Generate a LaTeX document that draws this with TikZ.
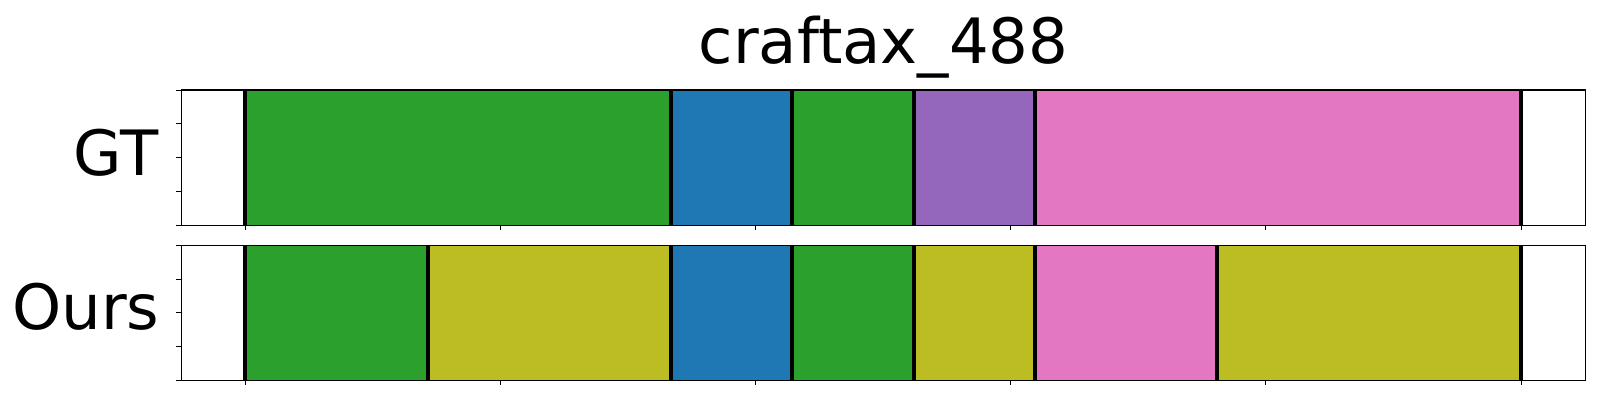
\documentclass[tikz,border=0pt]{standalone}
\usepackage{fontspec}
\setmainfont{DejaVu Sans}
\definecolor{tgreen}{HTML}{2CA02C}
\definecolor{tblue}{HTML}{1F77B4}
\definecolor{tpurple}{HTML}{9467BD}
\definecolor{tpink}{HTML}{E377C2}
\definecolor{tolive}{HTML}{BCBD22}
\tikzset{
  seg/.style={line width=0.8pt},
  sep/.style={line width=4pt, black},
  frame/.style={line width=1.3pt, black},
  tickmark/.style={line width=1pt, black},
  biglabel/.style={font=\fontsize{62.5}{70}\selectfont, inner sep=0pt}
}
\begin{document}
\begin{tikzpicture}[x=1pt,y=-1pt]
\useasboundingbox (0,0) rectangle (1600,400);
\fill[white] (0,0) rectangle (1600,400);
% ---------- top panel (GT) ----------
\def\ya{90} \def\yb{225.3}
\filldraw[seg, fill=tgreen, draw=tgreen!85!black] (245.3,\ya) rectangle (671.2,\yb);
\filldraw[seg, fill=tblue, draw=tblue!85!black] (671.2,\ya) rectangle (792,\yb);
\filldraw[seg, fill=tgreen, draw=tgreen!85!black] (792,\ya) rectangle (914,\yb);
\filldraw[seg, fill=tpurple, draw=tpurple!85!black] (914,\ya) rectangle (1035,\yb);
\filldraw[seg, fill=tpink, draw=tpink!85!black] (1035,\ya) rectangle (1521,\yb);
\foreach \x in {245.3,671.2,792,914,1035,1521}
  \draw[sep] (\x,\ya) -- (\x,\yb);
\draw[frame] (181.3,\ya) rectangle (1585.7,\yb);
\foreach \k in {0,...,5}
  \draw[tickmark] ({245.3+255.15*\k},\yb) -- ({245.3+255.15*\k},{\yb+5});
\foreach \k in {0,...,4}
  \draw[tickmark] (181.3,{\ya+33.825*\k}) -- (176.3,{\ya+33.825*\k});
% ---------- bottom panel (Ours) ----------
\def\yc{245.3} \def\yd{380.3}
\filldraw[seg, fill=tgreen, draw=tgreen!85!black] (245.3,\yc) rectangle (428,\yd);
\filldraw[seg, fill=tolive, draw=tolive!85!black] (428,\yc) rectangle (671.2,\yd);
\filldraw[seg, fill=tblue, draw=tblue!85!black] (671.2,\yc) rectangle (792,\yd);
\filldraw[seg, fill=tgreen, draw=tgreen!85!black] (792,\yc) rectangle (914,\yd);
\filldraw[seg, fill=tolive, draw=tolive!85!black] (914,\yc) rectangle (1035,\yd);
\filldraw[seg, fill=tpink, draw=tpink!85!black] (1035,\yc) rectangle (1217,\yd);
\filldraw[seg, fill=tolive, draw=tolive!85!black] (1217,\yc) rectangle (1521,\yd);
\foreach \x in {245.3,428,671.2,792,914,1035,1217,1521}
  \draw[sep] (\x,\yc) -- (\x,\yd);
\draw[frame] (181.3,\yc) rectangle (1585.7,\yd);
\foreach \k in {0,...,5}
  \draw[tickmark] ({245.3+255.15*\k},\yd) -- ({245.3+255.15*\k},{\yd+5});
\foreach \k in {0,...,4}
  \draw[tickmark] (181.3,{\yc+33.75*\k}) -- (176.3,{\yc+33.75*\k});
% ---------- labels ----------
\node[biglabel, anchor=base] (title) at (883.5,63.3) {craftax\_488};
\node[biglabel, anchor=base east] (gt) at (158.5,175) {GT};
\node[biglabel, anchor=base east] (ours) at (159.5,329.5) {Ours};
\end{tikzpicture}
\end{document}
